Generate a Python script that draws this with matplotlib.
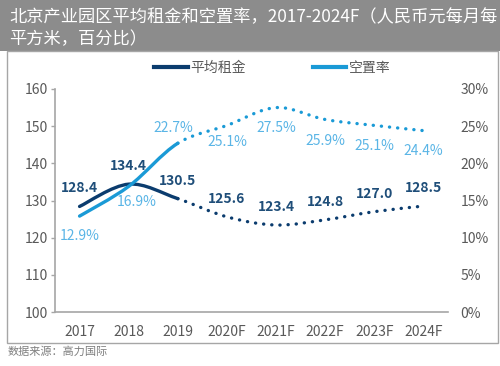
import matplotlib
matplotlib.use('Agg')
import matplotlib.pyplot as plt
from matplotlib.path import Path
from matplotlib.patches import PathPatch, Rectangle
from matplotlib.lines import Line2D
from matplotlib.ticker import PercentFormatter

plt.rcParams['font.family'] = ['Noto Sans CJK SC', 'DejaVu Sans']

years = ['2017', '2018', '2019', '2020F', '2021F', '2022F', '2023F', '2024F']
rent = [128.4, 134.4, 130.5, 125.6, 123.4, 124.8, 127.0, 128.5]       # 元/平方米/月
vacancy = [12.9, 16.9, 22.7, 25.1, 27.5, 25.9, 25.1, 24.4]            # %
n_actual = 3   # 2017-2019 实际值, 之后为预测 (虚线)

rent_c = '#0B3C6E'
rent_lbl = '#1F4E79'
vac_c = '#1A9AD6'
vac_lbl = '#5AB5E6'
grey = '#595959'


def smooth_path(xs, ys, i0, i1):
    # Excel 平滑线: 三次贝塞尔, 控制点由相邻点决定
    n = len(xs)
    verts = [(xs[i0], ys[i0])]
    codes = [Path.MOVETO]
    for i in range(i0, i1):
        a = max(i - 1, 0)
        b = min(i + 2, n - 1)
        c1 = (xs[i] + (xs[i + 1] - xs[a]) / 6, ys[i] + (ys[i + 1] - ys[a]) / 6)
        c2 = (xs[i + 1] - (xs[b] - xs[i]) / 6, ys[i + 1] - (ys[b] - ys[i]) / 6)
        verts += [c1, c2, (xs[i + 1], ys[i + 1])]
        codes += [Path.CURVE4] * 3
    return Path(verts, codes)


fig = plt.figure(figsize=(5, 3.66), dpi=100)

# 标题栏 + 图框
fig.add_artist(Rectangle((0, 1 - 51 / 366), 1, 51 / 366, transform=fig.transFigure,
                         facecolor='#8C8C8C', edgecolor='none', zorder=-2))
fig.add_artist(Rectangle((7 / 500, 1 - 343 / 366), 491 / 500, 292 / 366, transform=fig.transFigure,
                         facecolor='white', edgecolor='#A6A6A6', lw=1, zorder=-1))
fig.text(9 / 500, 1 - 17 / 366, '北京产业园区平均租金和空置率，2017-2024F（人民币元每月每',
         color='white', fontsize=12.4, fontweight='light', va='center', ha='left')
fig.text(9 / 500, 1 - 39 / 366, '平方米，百分比）',
         color='white', fontsize=12.4, fontweight='light', va='center', ha='left')
fig.text(8 / 500, 1 - 352 / 366, '数据来源：高力国际', color='#7F7F7F', fontsize=8,
         fontweight='light', va='center', ha='left')

ax = fig.add_axes([55 / 500, 1 - 312 / 366, 393 / 500, 223 / 366])
ax.patch.set_alpha(0)
ax2 = ax.twinx()

x = list(range(len(years)))

# 平均租金
ax.add_patch(PathPatch(smooth_path(x, rent, 0, n_actual - 1), fill=False,
                       edgecolor=rent_c, lw=2.4, capstyle='round'))
ax.add_patch(PathPatch(smooth_path(x, rent, n_actual - 1, len(x) - 1), fill=False,
                       edgecolor=rent_c, lw=2.4, linestyle=(0, (0.05, 2.4)), capstyle='round'))

# 空置率
ax2.add_patch(PathPatch(smooth_path(x, vacancy, 0, n_actual - 1), fill=False,
                        edgecolor=vac_c, lw=2.4, capstyle='round'))
ax2.add_patch(PathPatch(smooth_path(x, vacancy, n_actual - 1, len(x) - 1), fill=False,
                        edgecolor=vac_c, lw=2.4, linestyle=(0, (0.05, 2.4)), capstyle='round'))

# 数据标签
for i, v in enumerate(rent):
    ax.annotate(f'{v:.1f}', (i, v), xytext=(0, 13), textcoords='offset points',
                ha='center', va='center', fontsize=10, fontweight='bold', color=rent_lbl)

vac_off = [(0, -14.5), (6, -11.5), (-3, 11), (0, -12), (0, -14.5), (0, -15.5), (0, -15), (0, -15)]
for i, v in enumerate(vacancy):
    ax2.annotate(f'{v:.1f}%', (i, v), xytext=vac_off[i], textcoords='offset points',
                 ha='center', va='center', fontsize=10, color=vac_lbl)

ax.set_xlim(-0.5, len(x) - 0.5)
ax.set_ylim(100, 160)
ax.set_yticks(range(100, 161, 10))
ax.set_xticks(x)
ax.set_xticklabels(years)
ax2.set_ylim(0, 30)
ax2.set_yticks(range(0, 31, 5))
ax2.yaxis.set_major_formatter(PercentFormatter(decimals=0))

for s in ['top', 'right']:
    ax.spines[s].set_visible(False)
for s in ax2.spines.values():
    s.set_visible(False)
for s in ['left', 'bottom']:
    ax.spines[s].set_color('#A6A6A6')
    ax.spines[s].set_linewidth(1.2)

ax.tick_params(axis='x', length=0, pad=9, labelsize=10, labelcolor=grey)
ax.tick_params(axis='y', length=3, width=1, color='#A6A6A6', pad=2, labelsize=10, labelcolor=grey)
ax2.tick_params(axis='y', length=0, pad=9, labelsize=10, labelcolor=grey)

handles = [Line2D([], [], color=rent_c, lw=3), Line2D([], [], color=vac_c, lw=3)]
fig.legend(handles, ['平均租金', '空置率'], loc='center', bbox_to_anchor=(0.545, 1 - 68 / 366),
           ncol=2, frameon=False, fontsize=10, handlelength=2.4, handletextpad=0.2,
           columnspacing=4.8, labelcolor=grey, prop={'weight': 'light', 'size': 10})

fig.savefig('out.png', dpi=100)
